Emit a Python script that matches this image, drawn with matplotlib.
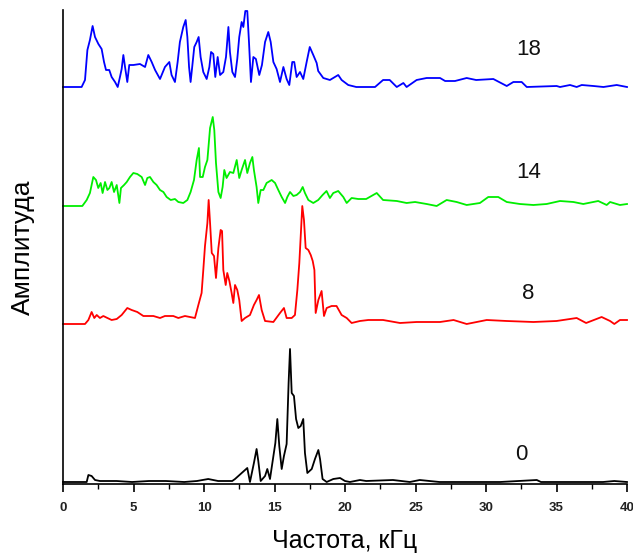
import numpy as np
import matplotlib.pyplot as plt
from matplotlib.ticker import MultipleLocator

plt.rcParams['font.family'] = ['Liberation Sans', 'DejaVu Sans']

# частоты (кГц) и амплитуды (усл. ед.) для четырёх спектров
freq_0 = [0, 1.68, 1.80, 2.03, 2.27, 2.62, 3.80, 4.90, 6.10, 7.30,
          8.60, 9.50, 10.30, 11.00, 12.00, 12.20, 13.07, 13.26, 13.54, 13.73,
          13.85, 14.02, 14.33, 14.49, 14.68, 14.87, 15.06, 15.20, 15.34, 15.51,
          15.67, 15.86, 16.00, 16.10, 16.22, 16.38, 16.53, 16.69, 16.86, 17.04,
          17.16, 17.33, 17.64, 17.87, 18.11, 18.23, 18.41, 18.70, 19.17, 19.65,
          20.00, 20.35, 21.06, 21.50, 23.40, 24.60, 25.30, 26.70, 28.60, 31.00,
          33.60, 33.90, 35.90, 38.30, 39.10, 40.0]
amp_0 = [0, 0, 7, 6, 2, 1, 1, 0, 1, 1,
         0, 1, 3, 1, 1, 3, 14, 0, 19, 33,
         21, 1, 6, 13, 3, 21, 39, 63, 36, 13,
         26, 38, 99, 133, 89, 86, 63, 54, 56, 63,
         29, 9, 13, 23, 32, 23, 3, 0, 3, 4,
         1, 0, 2, 1, 2, 0, 2, 0, 0, 0,
         2, 0, 0, 0, 1, 0]

freq_8 = [0, 1.56, 1.80, 2.03, 2.22, 2.39, 2.62, 2.86, 3.15, 3.45,
          3.81, 4.16, 4.56, 4.87, 5.27, 5.70, 5.94, 6.41, 6.88, 7.23,
          7.82, 8.18, 8.65, 9.36, 9.60, 9.83, 9.95, 10.07, 10.24, 10.33,
          10.43, 10.55, 10.71, 10.85, 11.02, 11.18, 11.28, 11.37, 11.54, 11.65,
          11.80, 11.96, 12.08, 12.20, 12.36, 12.50, 12.67, 12.91, 13.26, 13.54,
          13.73, 13.90, 14.09, 14.33, 14.92, 15.39, 15.67, 15.86, 16.22, 16.45,
          16.62, 16.76, 16.86, 16.97, 17.09, 17.21, 17.40, 17.57, 17.71, 17.83,
          17.92, 18.11, 18.34, 18.51, 18.70, 19.05, 19.40, 19.76, 20.12, 20.47,
          21.06, 21.65, 22.70, 23.90, 25.08, 26.74, 27.70, 28.63, 30.05, 31.47,
          33.36, 35.00, 36.43, 37.10, 38.20, 38.80, 39.10, 39.50, 40.0]
amp_8 = [0, 0, 4, 12, 6, 9, 6, 8, 6, 4,
         5, 9, 16, 14, 12, 8, 8, 8, 6, 8,
         8, 6, 8, 6, 19, 31, 54, 78, 101, 124,
         101, 71, 68, 46, 76, 94, 93, 54, 39, 51,
         43, 31, 21, 39, 34, 24, 3, 6, 9, 19,
         24, 29, 14, 3, 2, 11, 16, 6, 6, 9,
         34, 61, 88, 118, 104, 76, 74, 69, 63, 54,
         11, 24, 33, 8, 16, 18, 18, 9, 6, 1,
         3, 4, 4, 1, 2, 2, 4, 0, 4, 3,
         2, 3, 6, 1, 7, 3, 0, 4, 4]

freq_14 = [0, 1.37, 1.68, 1.91, 2.15, 2.34, 2.50, 2.67, 2.81, 2.98,
           3.15, 3.29, 3.45, 3.62, 3.81, 4.00, 4.11, 4.33, 4.52, 4.75,
           4.99, 5.27, 5.58, 5.82, 5.98, 6.17, 6.41, 6.64, 6.88, 7.12,
           7.35, 7.64, 7.94, 8.18, 8.53, 8.82, 9.05, 9.29, 9.48, 9.64,
           9.72, 9.91, 10.07, 10.24, 10.43, 10.62, 10.73, 10.85, 11.02, 11.18,
           11.32, 11.44, 11.60, 11.84, 12.08, 12.32, 12.50, 12.67, 12.91, 13.07,
           13.26, 13.43, 13.54, 13.73, 13.85, 14.02, 14.21, 14.44, 14.80, 15.04,
           15.27, 15.51, 15.75, 15.91, 16.10, 16.34, 16.57, 16.81, 17.00, 17.16,
           17.40, 17.75, 18.10, 18.41, 18.69, 18.93, 19.17, 19.52, 19.88, 20.12,
           20.47, 20.94, 21.50, 22.25, 22.70, 23.67, 24.37, 24.97, 25.79, 26.50,
           27.21, 27.92, 28.63, 29.57, 30.16, 30.87, 31.47, 32.40, 33.36, 34.30,
           35.25, 36.20, 36.90, 37.96, 38.56, 38.80, 39.50, 40.0]
amp_14 = [0, 0, 6, 13, 29, 26, 18, 23, 13, 24,
          16, 18, 24, 14, 21, 3, 18, 21, 24, 29,
          33, 32, 29, 21, 28, 29, 24, 21, 16, 14,
          9, 6, 7, 4, 3, 6, 14, 26, 46, 58,
          29, 29, 39, 46, 78, 89, 76, 43, 14, 8,
          19, 36, 28, 34, 33, 46, 28, 36, 46, 33,
          43, 49, 36, 19, 3, 16, 16, 23, 26, 23,
          16, 9, 3, 9, 14, 10, 11, 14, 19, 13,
          6, 3, 6, 11, 15, 8, 13, 15, 9, 3,
          8, 7, 7, 13, 6, 5, 3, 4, 2, 0,
          6, 4, 1, 3, 9, 9, 4, 2, 1, 2,
          5, 4, 2, 5, 1, 4, 1, 2]

freq_18 = [0, 1.32, 1.56, 1.73, 1.91, 2.10, 2.27, 2.51, 2.74, 2.91,
           3.05, 3.28, 3.45, 3.69, 3.88, 4.04, 4.16, 4.28, 4.40, 4.56,
           4.70, 4.99, 5.46, 5.82, 6.05, 6.29, 6.53, 6.88, 7.23, 7.54,
           7.70, 7.94, 8.13, 8.29, 8.53, 8.70, 8.82, 8.94, 9.05, 9.20,
           9.31, 9.48, 9.62, 9.76, 9.95, 10.19, 10.38, 10.50, 10.66, 10.80,
           10.97, 11.14, 11.37, 11.56, 11.73, 11.84, 12.01, 12.20, 12.36, 12.50,
           12.67, 12.79, 12.93, 13.07, 13.19, 13.33, 13.50, 13.68, 13.92, 14.11,
           14.33, 14.56, 14.73, 14.92, 15.15, 15.39, 15.63, 15.86, 16.05, 16.26,
           16.40, 16.57, 16.81, 17.04, 17.28, 17.50, 17.75, 17.99, 18.10, 18.46,
           18.93, 19.52, 19.76, 20.23, 20.80, 22.13, 22.70, 23.17, 23.67, 24.14,
           24.37, 25.08, 25.79, 26.74, 27.10, 27.80, 28.63, 29.30, 30.52, 31.47,
           31.94, 32.53, 32.89, 35.01, 35.25, 35.96, 36.43, 36.79, 37.62, 38.33,
           39.27, 40.0]
amp_18 = [0, 0, 7, 37, 47, 61, 50, 43, 38, 25,
          17, 17, 10, 5, 0, 10, 18, 32, 20, 5,
          22, 22, 23, 20, 32, 25, 17, 8, 20, 25,
          12, 5, 25, 45, 60, 67, 50, 20, 5, 25,
          40, 45, 50, 30, 15, 8, 20, 35, 33, 10,
          30, 12, 15, 30, 60, 35, 15, 10, 28, 50,
          65, 60, 76, 76, 45, 5, 30, 28, 12, 22,
          45, 55, 45, 25, 18, 5, 20, 8, 2, 25,
          25, 10, 15, 8, 25, 40, 32, 24, 16, 9,
          7, 12, 7, 2, 0, 0, 7, 7, 0, 4,
          0, 7, 9, 9, 6, 6, 9, 7, 8, 1,
          5, 5, 0, 1, 0, 2, 0, 2, 1, 0,
          2, 0]

labels = ['0', '8', '14', '18']
colors = ['black', '#ff0000', '#00ee00', '#0000ff']
offsets = [0.02, 1.60, 2.78, 3.97]
label_pos = [(32.5, 0.29), (33.0, 1.91), (33.0, 3.12), (33.0, 4.35)]
scale = 0.01

series = [(freq_0, amp_0), (freq_8, amp_8), (freq_14, amp_14), (freq_18, amp_18)]

fig = plt.figure(figsize=(6.33, 5.6), dpi=100)
ax = fig.add_axes([63 / 633, 1 - 484 / 560, 564 / 633, 474 / 560])

for (f, a), c, off, lab, (tx, ty) in zip(series, colors, offsets, labels, label_pos):
    ax.plot(f, off + np.array(a) * scale, color=c, lw=1.3, clip_on=False)
    ax.text(tx, ty, lab, fontsize=16, ha='center', va='center', color='#111111')

ax.set_xlim(0, 40)
ax.set_ylim(0, 4.74)
ax.spines['top'].set_visible(False)
ax.spines['right'].set_visible(False)
ax.spines['left'].set_linewidth(1.2)
ax.spines['bottom'].set_linewidth(1.2)

ax.set_yticks([])
ax.set_xticks(np.arange(0, 41, 5))
ax.xaxis.set_minor_locator(MultipleLocator(2.5))
ax.tick_params(axis='x', which='major', direction='out', length=6, width=1.2,
               labelsize=9.5, pad=7)
ax.tick_params(axis='x', which='minor', direction='out', length=3.5, width=1.0)
for t in ax.get_xticklabels():
    t.set_fontweight('bold')
    t.set_color('#222222')

ax.set_xlabel('Частота, кГц', fontsize=18, labelpad=11)
ax.set_ylabel('Амплитуда', fontsize=19, labelpad=20)

fig.savefig('out.png', dpi=100)
